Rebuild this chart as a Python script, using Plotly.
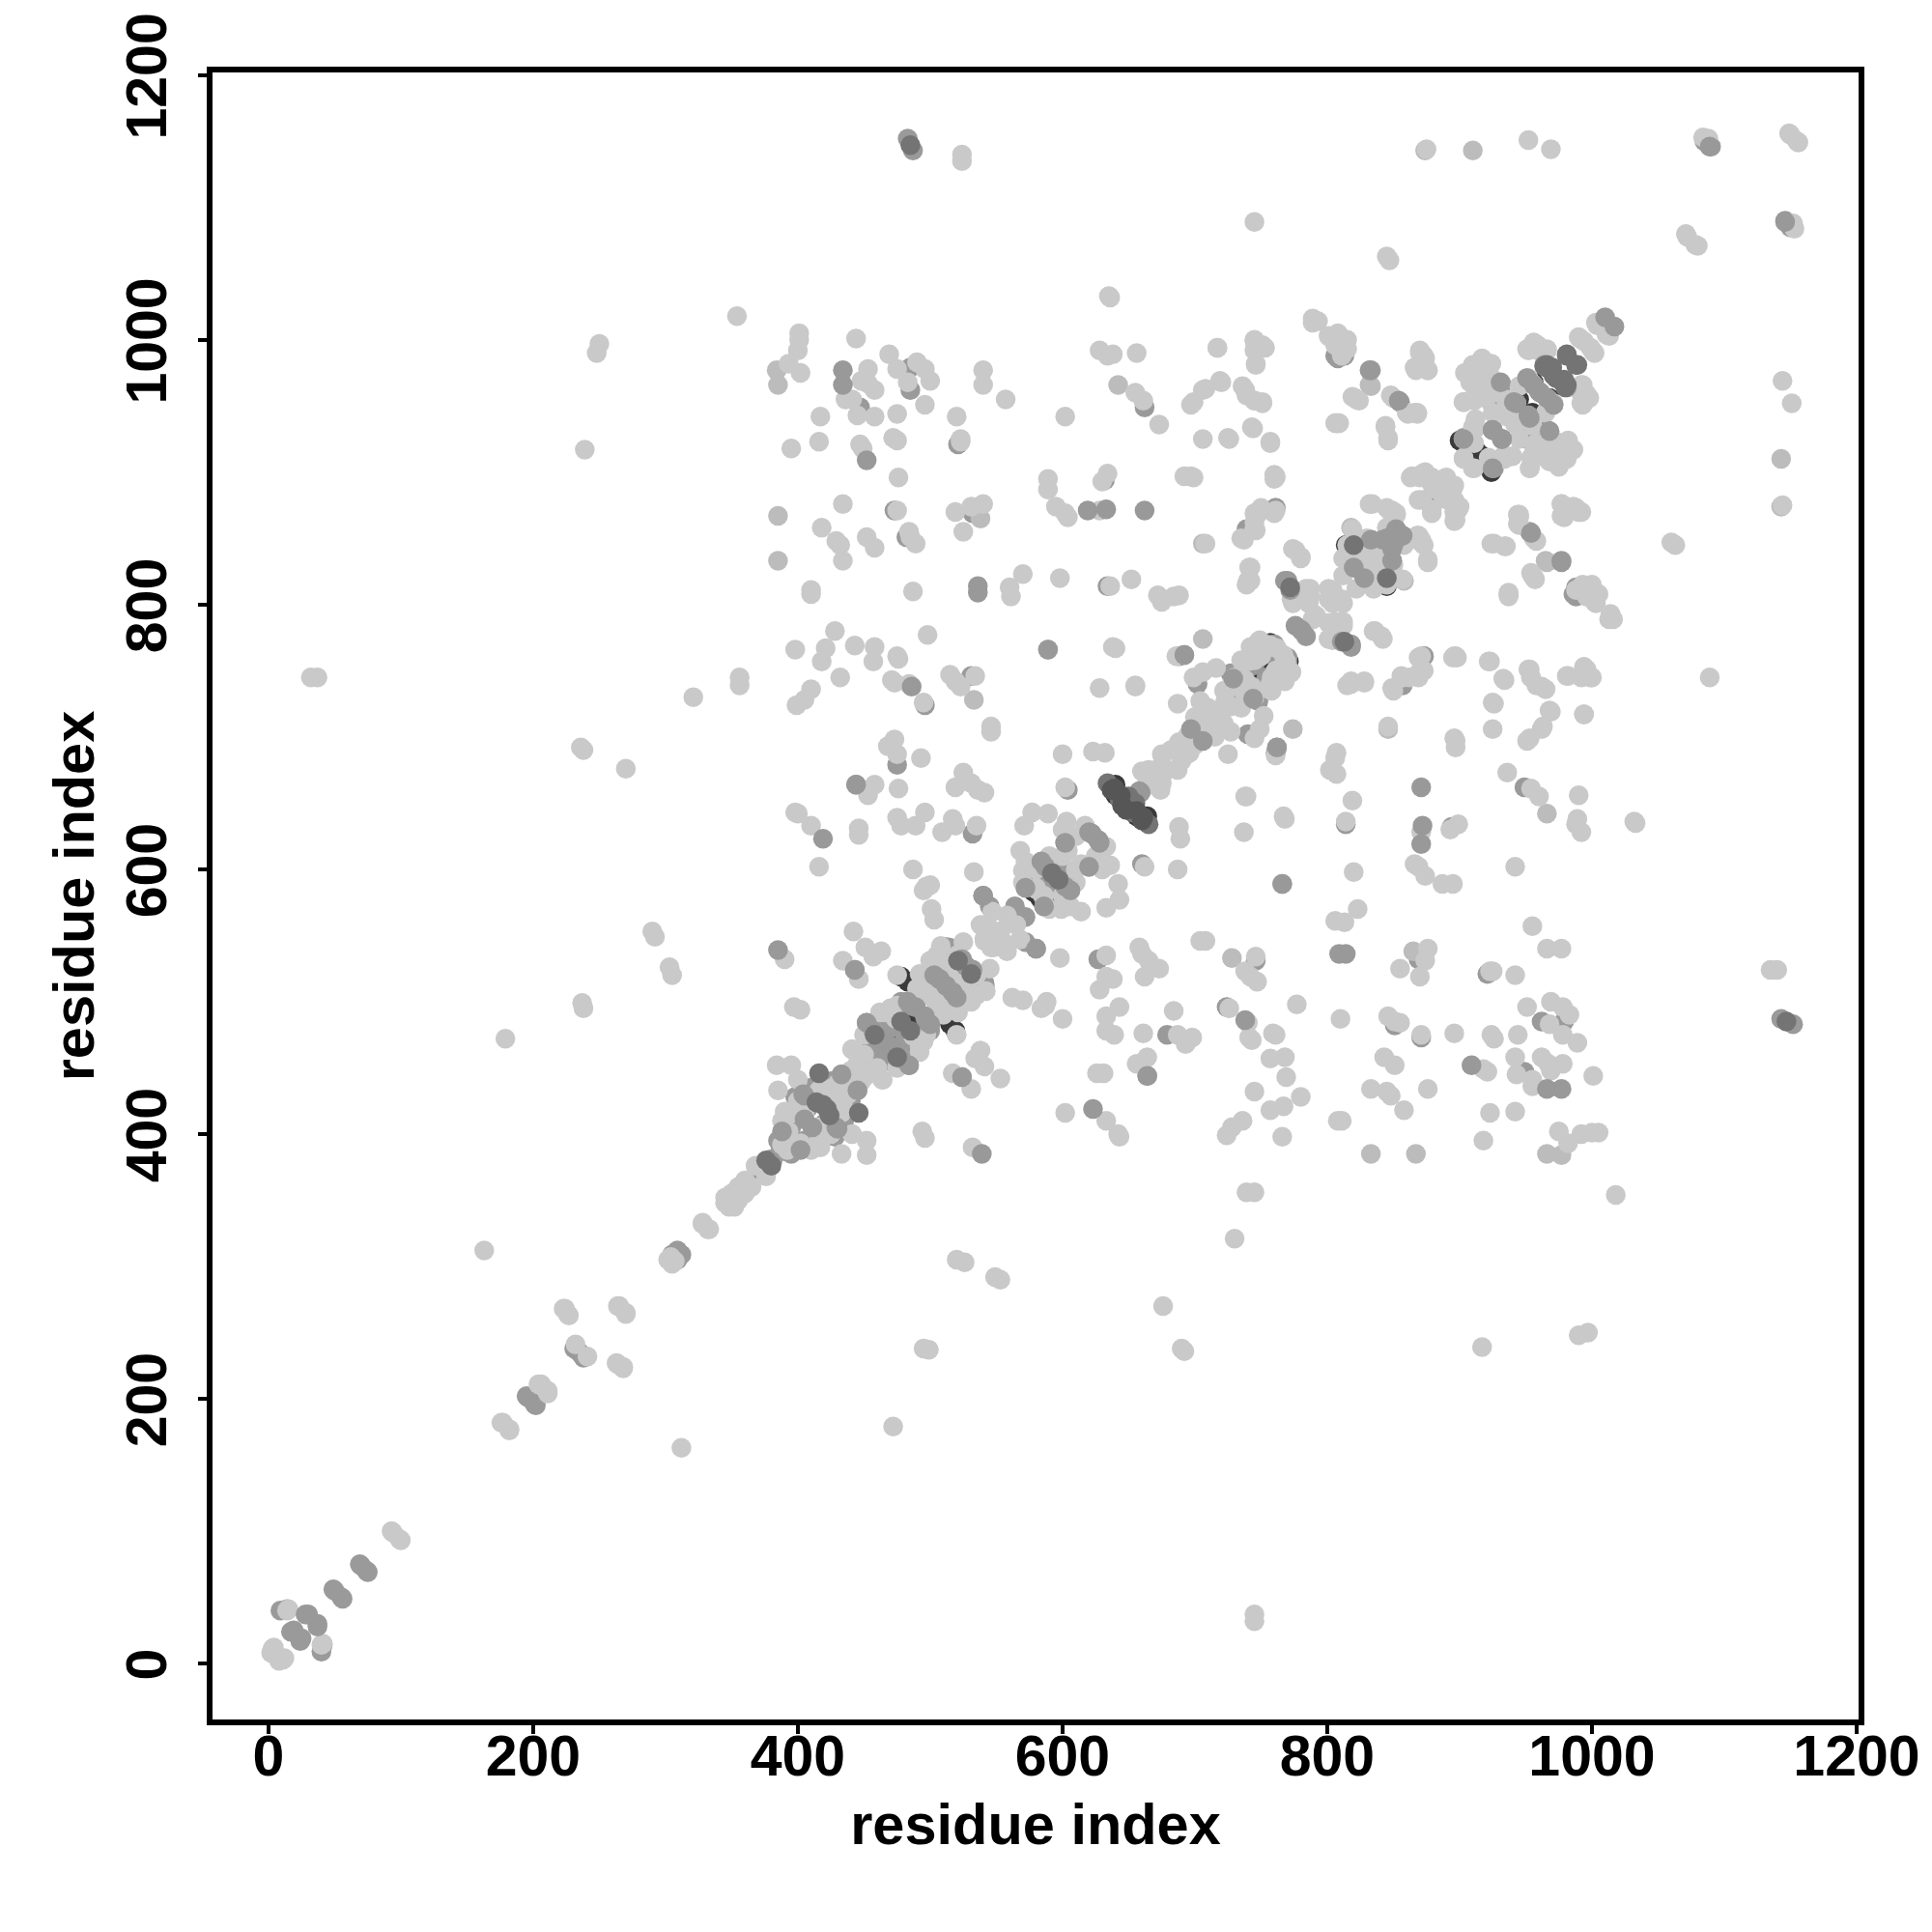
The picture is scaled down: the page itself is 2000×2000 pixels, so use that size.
import plotly.graph_objects as go

contacts_black = [(907,918),(916,913),(900,924),(922,909),(877,880),(814,845),(825,838),(771,757),(755,770),(752,752),(738,736),(742,748),(600,592),(585,586),(578,583),(590,575),(519,478),(515,483),(531,518),(541,512),(478,490),(487,482),(459,478),(470,468),(418,426),(424,416),(430,412),(968,978),(956,968),(945,955),(733,748),(648,650),(656,640),(640,664)]
contacts_under = [(761,688),(949,662),(814,634),(746,531),(724,496),(921,521),(962,485),(979,485),(894,632),(869,532),(851,482),(871,473),(806,988),(808,986),(761,873),(739,857),(820,845),(852,857),(845,850),(853,850),(849,842),(849,833),(820,828),(745,754),(755,770),(760,770),(761,761),(727,748),(730,736),(746,728),(740,702),(708,699),(855,740),(762,692),(903,926),(925,903),(932,925),(943,952),(953,941),(925,932),(951,971),(956,966),(961,960),(966,932),(951,925),(988,813),(953,855),(873,761),(620,628),(627,622),(620,602),(572,564),(580,540),(572,545),(592,599),(598,591),(586,572),(519,536),(524,532),(541,514),(507,517),(512,512),(517,507),(489,496),(497,485),(500,483),(478,500),(466,470),(473,462),(484,452),(445,433),(441,419),(429,405),(411,405),(390,387),(424,434),(664,444),(524,443),(627,532),(679,475),(660,604),(949,447),(659,659),(1146,1090),(1150,1085),(1087,1150),(1143,487),(1152,483),(381,380),(372,372),(309,305),(312,309),(201,196),(195,202),(236,234),(231,238),(69,75),(74,70),(49,56),(55,50),(24,17),(19,25),(41,14),(9,40),(30,37),
(420,408),(435,410),(440,425),(428,398),(412,398),(405,395),(395,385),(590,590),(605,597),(530,515),(515,505),(490,470),(480,465),(470,455),(465,460),(455,455),(481,473),(835,830),(840,845),(828,825),(838,815)]
contacts_soft = [(966,642),(728,533),(865,538),(766,589),(833,385),(867,385),(966,385),(846,706),(832,966),(774,706),(1143,910),(1143,874),(977,384),(745,857),(965,833),(818,858)]
contacts_light = [(520,305),(526,303),(549,292),(553,290),(495,238),(499,237),(472,179),(676,270),(690,238),(692,236),(312,163),(739,356),(745,356),(730,321),(1018,354),(917,239),(990,248),(997,250),(745,37),(745,32),
(725,687),(761,686),(806,684),(802,675),(807,672),(936,673),(954,661),(960,655),(990,656),(1032,636),(988,634),(989,638),(992,628),(738,655),(739,655),(737,628),(767,640),(768,638),(819,652),(814,636),(871,628),(866,604),(869,602),(874,595),(887,589),(895,589),(899,634),(893,630),(942,602),(820,598),(823,570),(806,561),(813,560),(955,557),(966,540),(977,540),(708,546),(746,534),(738,523),(742,519),(747,515),(855,525),(876,540),(874,531),(870,519),(923,523),(925,523),(942,520),(951,496),(969,500),(978,496),(983,490),(968,483),(978,475),(989,469),(726,495),(740,484),(741,473),(743,471),(777,498),(759,476),(761,475),(810,487),(846,489),(851,485),(855,484),(871,475),(896,476),(924,475),(926,472),(944,475),(757,457),(768,458),(769,443),(843,458),(851,452),(921,447),(918,449),(942,458),(955,441),(955,436),(943,445),(962,458),(967,453),(978,453),(969,448),(1001,444),(745,432),(780,428),(757,418),(767,421),(833,434),(845,432),(848,429),(876,434),(858,418),(923,416),(942,417),(808,410),(811,410),(736,410),(728,405),(724,399),(766,398),(918,395),(975,402),(992,400),(1005,401),(1000,401),(982,393),
(789,1013),(793,1014),(801,1003),(808,1005),(815,1000),(815,993),(811,988),(870,992),(874,986),(866,979),(876,977),(717,994),(745,1000),(747,994),(745,992),(751,996),(746,982),(719,969),(708,963),(736,965),(739,958),(745,954),(751,953),(821,956),(819,957),(848,958),(860,945),(866,945),(868,945),(806,937),(808,937),(844,935),(846,926),(725,926),(743,934),(757,923),(760,898),(761,896),(864,897),(874,900),(879,891),(888,895),(896,890),(870,896),(869,879),(879,872),(886,884),(896,879),(899,872),(896,863),(832,876),(845,873),(852,869),(849,871),(761,871),(745,869),(750,872),(745,857),(735,850),(708,846),(774,842),(780,836),(815,845),(825,840),(830,850),(832,840),(830,820),(842,820),(844,819),(857,819),(868,852),(871,847),(876,834),(741,828),(740,818),(784,812),(773,804),(786,801),(792,791),(789,789),(801,812),(811,804),(804,801),(806,787),(812,787),(801,774),(835,780),(841,776),(869,760),(897,761),(895,760),(922,757),(933,744),(952,751),(954,745),(962,738),(981,746),(994,753),(994,746),(999,745),(925,726),(968,720),(994,717),(925,706),(962,706),(953,699),(951,697),(897,697),(897,692),(896,699),(807,688),(818,742),(828,742),(815,739),(849,737),(856,746),(862,745),(869,748),(873,750),(728,740),(735,744),(738,731),(743,738),(752,716),(723,726),(727,723),(719,714),(727,704),(745,699),(749,706),(708,711),(748,772),(742,768),(740,757),(767,762),(769,757),(773,749),(767,744),(761,750),
(1010,1010),(1004,1011),(1013,1003),(990,1002),(994,999),(1001,991),(956,998),(951,993),(966,993),(961,991),(992,966),(996,959),(992,952),(917,986),(910,981),(924,982),(904,975),(917,976),(915,968),(922,958),(909,955),(903,953),(971,952),(967,955),(937,942),(942,936),(910,934),(903,911),(910,903),(933,912),(922,911),(967,927),(956,920),(953,903),(954,911),(973,923),(983,919),(978,918),(968,908),(975,906),(977,876),(988,873),(977,867),(990,870),(944,868),(944,861),(956,850),(924,846),(934,844),(955,822),(954,824),(937,807),(937,809),(992,813),(1001,811),(996,806),(1002,802),(1016,789),(1014,790),
(633,617),(614,604),(636,603),(642,589),(643,577),(633,571),(614,568),(606,585),(606,572),(599,570),(586,580),(580,585),(568,547),(558,543),(546,541),(541,548),(553,553),(565,558),(558,538),(546,554),(545,525),(531,507),(529,501),(519,496),(504,500),(497,507),(500,531),(492,521),(542,508),(470,495),(466,492),(487,474),(497,475),(478,457),(481,454),(562,503),(570,501),(587,497),(584,495),(588,500),(600,487),(598,533),(633,535),(633,519),(638,517),(628,509),(643,496),(633,489),(639,475),(633,478),(661,476),(687,475),(698,473),(693,468),(684,493),(704,546),(658,541),(665,531),(673,525),(662,519),(660,536),(664,458),(656,453),(631,446),(626,446),(602,416),(633,410),(642,400),(643,398),(538,463),(534,457),(541,451),(553,442),(517,446),(531,434),(520,475),(494,402),(496,397),(532,390),(433,385),(452,384),(464,441),(452,446),(445,453),(441,464),(444,438),(434,424),(433,416),(441,400),(452,395),(416,396),(402,391),(417,390),(402,393),(647,655),(665,675),(664,667),(673,665),(679,675),(687,675),(674,660),(688,632),(689,623),(687,600),(662,602),(694,687),(700,694),(690,682),(696,688),
(345,352),(348,345),(355,350),(360,355),(365,360),(376,368),(328,333),(332,328),(304,307),(305,302),(241,232),(223,268),(227,263),(264,270),(270,265),(264,226),(268,224),(204,211),(211,206),(176,182),(182,177),(93,100),(99,94),(41,15),(14,40),(3,11),(4,12),(10,4),(8,2),
(1084,1153),(1155,1150),(1149,1156),(1078,1072),(1080,1071),(1152,1088),(1089,745),(1063,845),(1060,847),(1033,635),(1144,969),(1151,952),(1135,524),(1140,524),(1144,875),
(425,400),(415,405),(430,428),(438,430),(448,440),(395,390),(388,392),(410,388),(590,570),(600,580),(610,590),(625,610),(630,600),(610,600),(515,500),(525,510),(535,505),(510,490),(505,505),(520,520),(535,520),(492,462),(475,450),(460,450),(715,700),(722,710),(735,722),(758,735),(765,752),(758,745),(745,730),(712,705),(838,828),(826,832),(845,840),(822,812),(835,812),(858,845),(905,925),(912,940),(925,945),(935,955),(945,965)]
contacts_mid = [(871,662),(872,633),(871,619),(809,536),(814,536),(738,486),(909,452),(966,434),(977,434),(832,977),(854,954),(931,968),(818,770),(811,772),(776,784),(780,781),(768,818),(1017,1010),(981,964),(953,941),(925,903),(729,744),(977,833),(766,589),(580,540),(484,452),(497,485),(664,444),(524,443),(539,385),(623,419),(445,433),(706,697),(1089,1146),(37,28),(762,692),(658,659),(849,842),(849,833),
(602,587),(606,584),(586,572),(620,628),(627,622),(620,602),(845,850),(853,850),(852,857),(820,828),(925,932),(932,925),(943,952),(951,971),(956,966),(961,960),(489,496),(500,483),(512,512),(507,517),(517,507),(520,503),(524,532),(527,527),(466,470),(473,462),(478,457),(430,404),(411,405),(402,388),(429,405)]
contacts_dark = [(772,813),(981,989),(988,981),(966,981),(970,979),(964,980),(973,971),(978,969),(446,416),(380,376),(634,665),(639,661),(643,653),(650,655),(458,475),(485,478),(1147,485),(422,419),(424,414),(592,597),(820,845),(531,521)]
contacts_deep = [(648,645),(656,644),(661,639),(660,637)]

SHADES = [
    ("contacts_black", contacts_black, "#3a3a3a"),
    ("contacts_under", contacts_under, "#9a9a9a"),
    ("contacts_soft", contacts_soft, "#bcbcbc"),
    ("contacts_light", contacts_light, "#c9c9c9"),
    ("contacts_mid", contacts_mid, "#999999"),
    ("contacts_dark", contacts_dark, "#747474"),
    ("contacts_deep", contacts_deep, "#565656"),
]
TICKS = [0, 200, 400, 600, 800, 1000, 1200]
AXIS_TITLE = "residue index"
FONT = "Liberation Sans"

fig = go.Figure()
for name, pairs, colour in SHADES:
    xs = [p[0] for p in pairs] + [p[1] for p in pairs]
    ys = [p[1] for p in pairs] + [p[0] for p in pairs]
    fig.add_trace(go.Scatter(x=xs, y=ys, mode="markers", name=name,
                             marker=dict(size=20.5, color=colour, line=dict(width=0))))

axis = dict(tickmode="array", tickvals=TICKS, ticktext=[str(t) for t in TICKS],
            ticks="outside", ticklen=9, tickwidth=4, tickcolor="black", automargin=False,
            showgrid=False, zeroline=False, showline=True, linecolor="black",
            linewidth=6, mirror=True, ticklabeloverflow="allow",
            tickfont=dict(family=FONT, size=59, color="black", weight="bold"),
            title=dict(text=AXIS_TITLE, font=dict(family=FONT, size=59.5, color="black", weight="bold")))
fig.update_layout(width=2000, height=2000, autosize=False, showlegend=False,
                  paper_bgcolor="white", plot_bgcolor="white",
                  margin=dict(l=212, r=84, t=67, b=228))
fig.update_xaxes(axis, range=[-42.3, 1201.5], ticklabelstandoff=-28)
fig.update_xaxes(title_standoff=20)
fig.update_yaxes(axis, range=[-42.3, 1202], tickangle=-90, ticklabelstandoff=9, ticklabelshift=10)
fig.update_yaxes(title_standoff=5)
fig.write_html("out.html")
